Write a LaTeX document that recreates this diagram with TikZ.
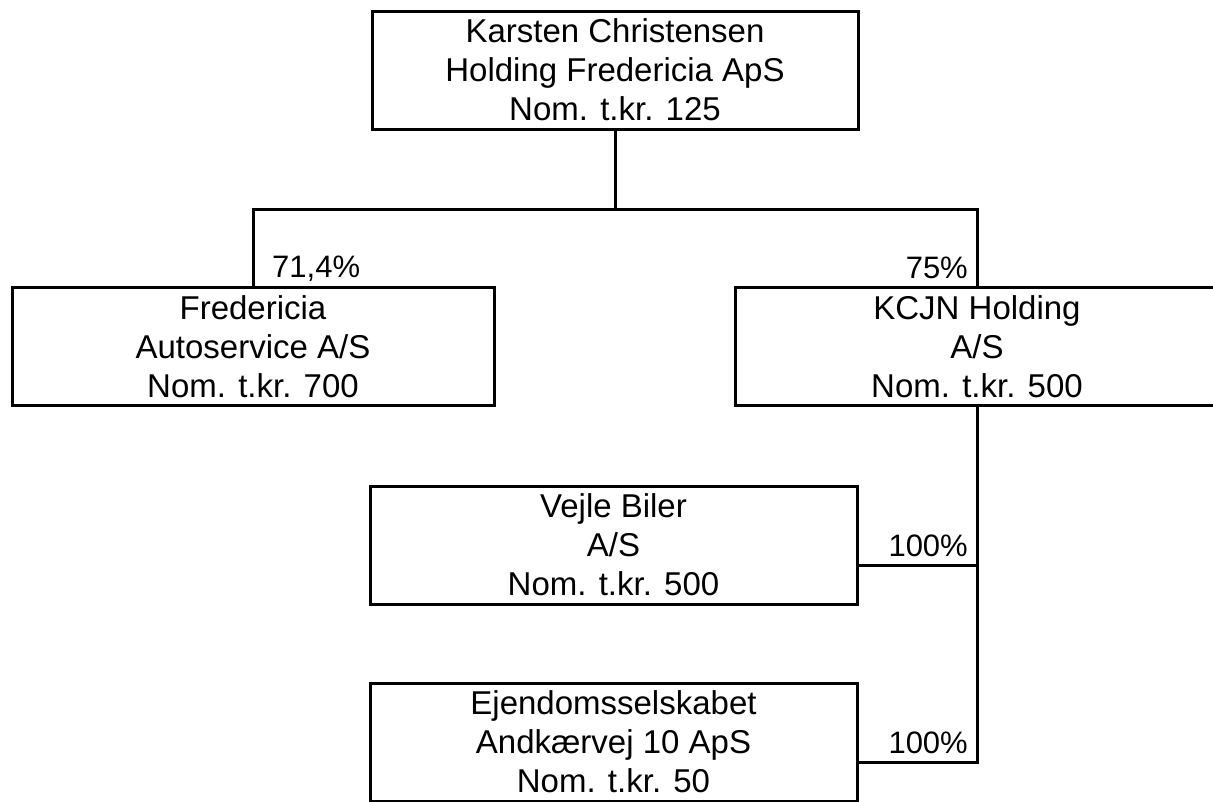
\documentclass[tikz,border=0pt]{standalone}
\usepackage{fontspec}
\setmainfont{Liberation Sans}
\newcommand{\ls}{\rule[-6pt]{0pt}{35.6pt}}
\begin{document}
\begin{tikzpicture}[x=1pt,y=-1pt,
  box/.style={draw,line width=3pt,inner sep=0pt,minimum height=118pt,align=center,
    font=\fontsize{33}{39}\selectfont},
  lbl/.style={inner sep=0pt,font=\fontsize{31}{39}\selectfont},
  conn/.style={line width=3pt}]
\useasboundingbox (0,0) rectangle (1213,801);
\node[box,minimum width=486pt] (top) at (615,70) {\ls Karsten Christensen\\\ls Holding Fredericia ApS\\\ls Nom. t.kr. 125};
\node[box,minimum width=482pt] (fa) at (253,346.5) {\ls Fredericia\\\ls Autoservice A/S\\\ls Nom. t.kr. 700};
\node[box,minimum width=484pt] (kcjn) at (977,346.5) {\ls KCJN Holding\\\ls A/S\\\ls Nom. t.kr. 500};
\node[box,minimum width=487pt] (vb) at (613.5,545) {\ls Vejle Biler\\\ls A/S\\\ls Nom. t.kr. 500};
\node[box,minimum width=487pt] (ej) at (613.5,742) {\ls Ejendomsselskabet\\\ls Andkærvej 10 ApS\\\ls Nom. t.kr. 50};
\coordinate (bus) at (615,209);
\coordinate (vbc) at ([yshift=-20pt]vb.east);
\coordinate (ejc) at ([yshift=-20pt]ej.east);
\draw[conn] (top.south) -- (bus);
\draw[conn] (fa.north) |- (bus) -| (kcjn.north);
\draw[conn] (kcjn.south) |- (ejc);
\draw[conn] (vbc) -- (vbc -| kcjn.south);
\node[lbl,anchor=base west] (p1) at (272,277) {71,4\%};
\node[lbl,anchor=base east] (p2) at (968,278) {75\%};
\node[lbl,anchor=base east] (p3) at (968,556) {100\%};
\node[lbl,anchor=base east] (p4) at (968,753) {100\%};
\end{tikzpicture}
\end{document}
